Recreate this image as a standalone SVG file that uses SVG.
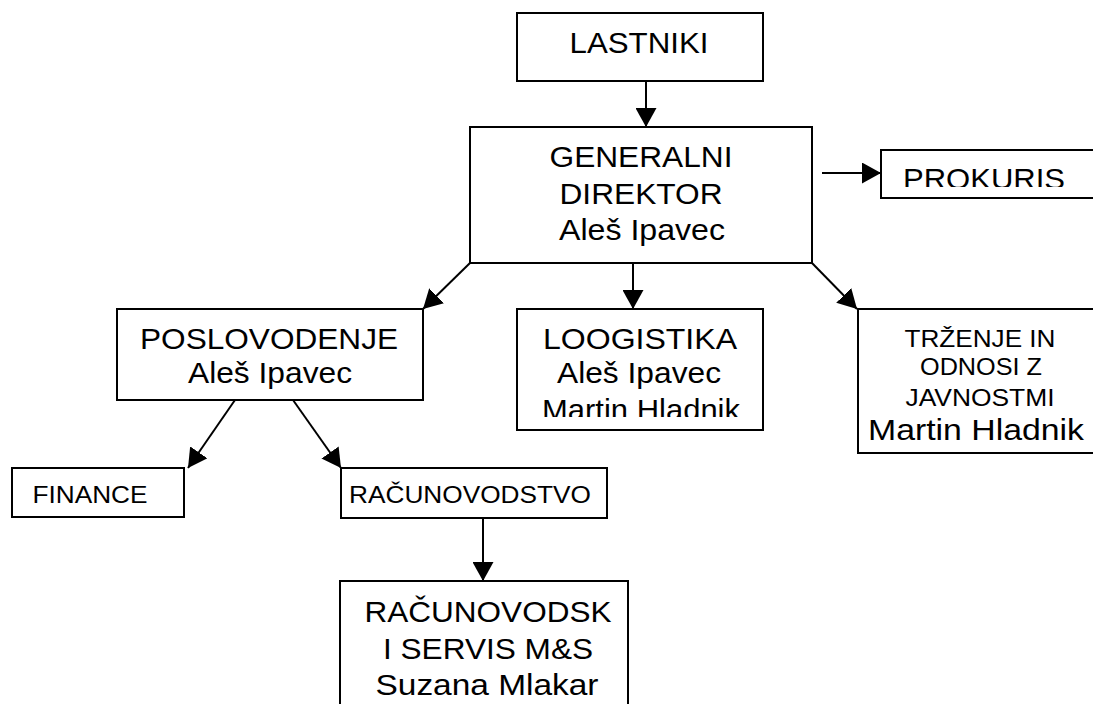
<svg xmlns="http://www.w3.org/2000/svg" width="1093" height="704" viewBox="0 0 1093 704">
<style>
.box{fill:#fff;stroke:#000;stroke-width:2}
.t{font-family:"Liberation Sans",Arial,sans-serif;font-size:29.5px;fill:#000;text-anchor:middle}
.s{font-family:"Liberation Sans",Arial,sans-serif;font-size:24px;fill:#000;text-anchor:middle}
.c{stroke:#000;stroke-width:2;fill:none;marker-end:url(#ah)}
</style>
<defs>
<marker id="ah" markerUnits="userSpaceOnUse" markerWidth="20" markerHeight="21" refX="19" refY="10.5" orient="auto">
<path d="M0,0 L19,10.5 L0,21 z" fill="#000"/>
</marker>
<clipPath id="clipPro"><rect x="881" y="150" width="220" height="37"/></clipPath>
<clipPath id="clipLog"><rect x="517" y="309" width="246" height="108"/></clipPath>
</defs>
<rect width="1093" height="704" fill="#fff"/>
<g id="connectors">
<path class="c" d="M646,81 L646,127"/>
<path class="c" d="M822,173 L881,173"/>
<path class="c" d="M470,263 L423,309"/>
<path class="c" d="M633,263 L633,309"/>
<path class="c" d="M812,263 L857,309"/>
<path class="c" d="M235,400 L188,468"/>
<path class="c" d="M293,400 L341,468"/>
<path class="c" d="M483,518 L483,581"/>
</g>
<g id="lastniki">
<rect class="box" x="517" y="13" width="246" height="68"/>
<text class="t" x="639" y="53" textLength="139" lengthAdjust="spacingAndGlyphs">LASTNIKI</text>
</g>
<g id="generalni">
<rect class="box" x="470" y="127" width="342" height="136"/>
<text class="t" x="641" y="167" textLength="183" lengthAdjust="spacingAndGlyphs">GENERALNI</text>
<text class="t" x="641" y="204" textLength="163" lengthAdjust="spacingAndGlyphs">DIREKTOR</text>
<text class="t" x="642" y="240" textLength="166" lengthAdjust="spacingAndGlyphs">Aleš Ipavec</text>
</g>
<g id="prokuris">
<rect class="box" x="881" y="150" width="220" height="48"/>
<text class="t" x="984" y="189" textLength="162" lengthAdjust="spacingAndGlyphs" clip-path="url(#clipPro)">PROKURIS</text>
</g>
<g id="poslovodenje">
<rect class="box" x="117" y="309" width="306" height="91"/>
<text class="t" x="269" y="349" textLength="258" lengthAdjust="spacingAndGlyphs">POSLOVODENJE</text>
<text class="t" x="270" y="383" textLength="164" lengthAdjust="spacingAndGlyphs">Aleš Ipavec</text>
</g>
<g id="loogistika">
<rect class="box" x="517" y="309" width="246" height="121"/>
<text class="t" x="640" y="349" textLength="194" lengthAdjust="spacingAndGlyphs">LOOGISTIKA</text>
<text class="t" x="639" y="383" textLength="164" lengthAdjust="spacingAndGlyphs">Aleš Ipavec</text>
<text class="t" x="641" y="420" textLength="198" lengthAdjust="spacingAndGlyphs" clip-path="url(#clipLog)">Martin Hladnik</text>
</g>
<g id="trzenje">
<rect class="box" x="858" y="309" width="242" height="144"/>
<text class="s" x="980" y="347" textLength="151" lengthAdjust="spacingAndGlyphs">TRŽENJE IN</text>
<text class="s" x="981" y="375" textLength="122" lengthAdjust="spacingAndGlyphs">ODNOSI Z</text>
<text class="s" x="980" y="406" textLength="149" lengthAdjust="spacingAndGlyphs">JAVNOSTMI</text>
<text class="t" x="976" y="440" textLength="216" lengthAdjust="spacingAndGlyphs">Martin Hladnik</text>
</g>
<g id="finance">
<rect class="box" x="12" y="468" width="172" height="49"/>
<text class="s" x="90" y="503" textLength="115" lengthAdjust="spacingAndGlyphs">FINANCE</text>
</g>
<g id="racunovodstvo">
<rect class="box" x="341" y="468" width="266" height="50"/>
<text class="s" x="470" y="503" textLength="242" lengthAdjust="spacingAndGlyphs">RAČUNOVODSTVO</text>
</g>
<g id="servis">
<rect class="box" x="340" y="581" width="288" height="130"/>
<text class="t" x="488" y="622" textLength="247" lengthAdjust="spacingAndGlyphs">RAČUNOVODSK</text>
<text class="t" x="488" y="659" textLength="210" lengthAdjust="spacingAndGlyphs">I SERVIS M&amp;S</text>
<text class="t" x="487" y="695" textLength="223" lengthAdjust="spacingAndGlyphs">Suzana Mlakar</text>
</g>
</svg>
